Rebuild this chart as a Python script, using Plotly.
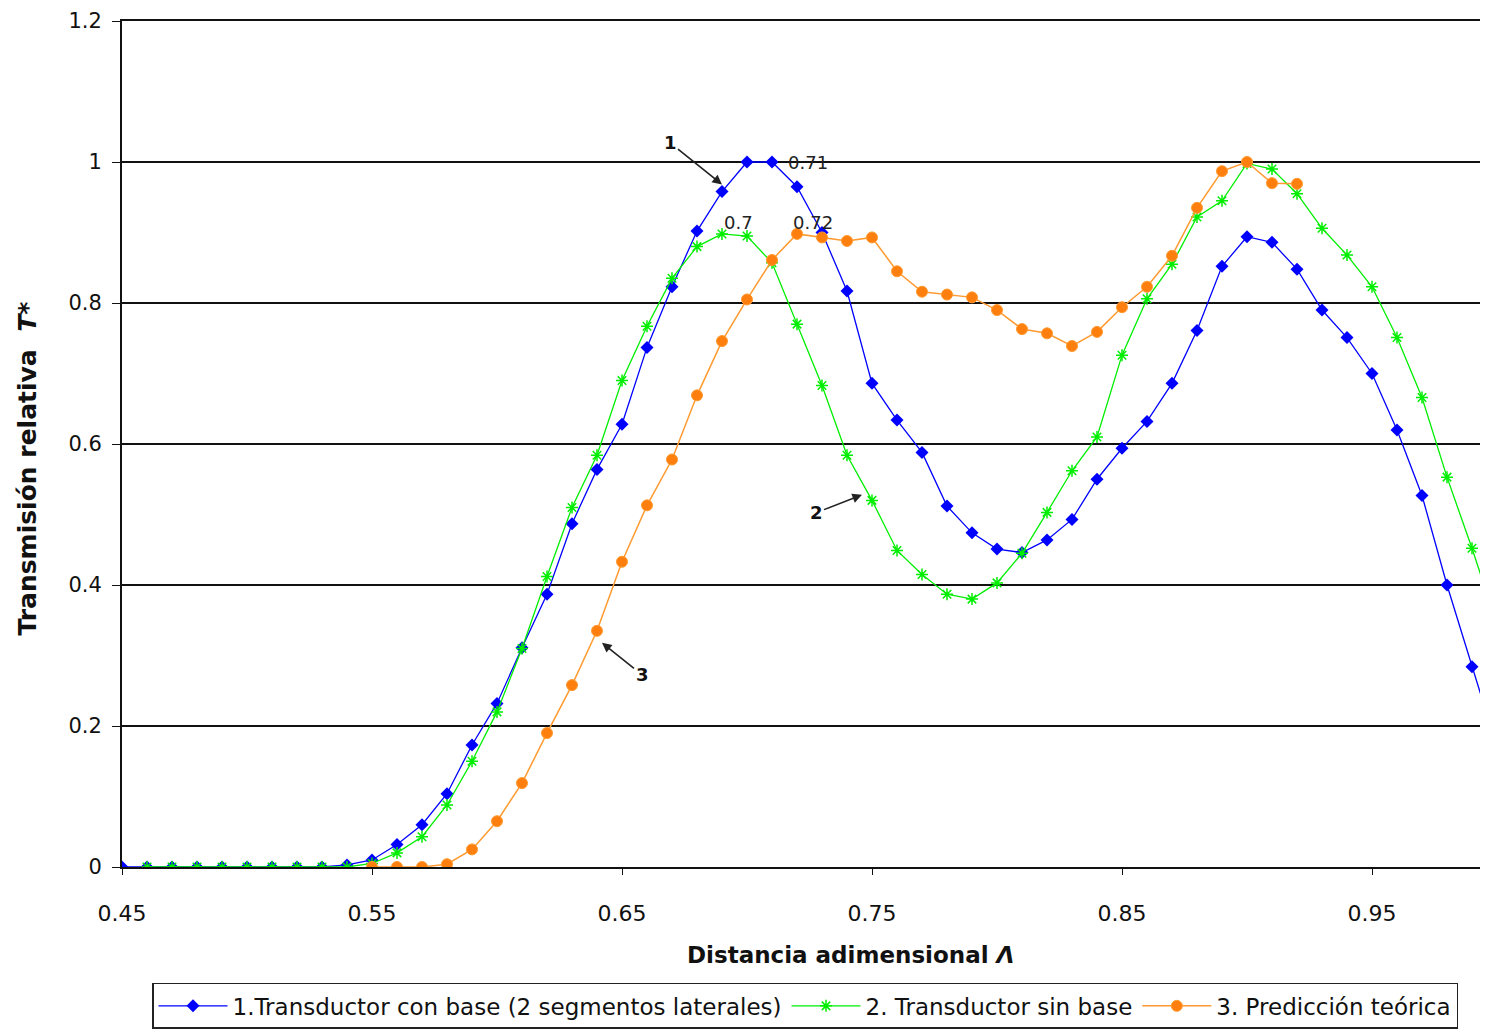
import plotly.graph_objects as go

# ---- data ----
x_blue = [0.45, 0.46, 0.47, 0.48, 0.49, 0.50, 0.51, 0.52, 0.53, 0.54,
          0.55, 0.56, 0.57, 0.58, 0.59, 0.60, 0.61, 0.62, 0.63, 0.64,
          0.65, 0.66, 0.67, 0.68, 0.69, 0.70, 0.71, 0.72, 0.73, 0.74,
          0.75, 0.76, 0.77, 0.78, 0.79, 0.80, 0.81, 0.82, 0.83, 0.84,
          0.85, 0.86, 0.87, 0.88, 0.89, 0.90, 0.91, 0.92, 0.93, 0.94,
          0.95, 0.96, 0.97, 0.98, 0.99, 1.00]
y_blue = [0.0, 0.0, 0.0, 0.0, 0.0, 0.0, 0.0, 0.0, 0.0, 0.003,
          0.01, 0.032, 0.06, 0.104, 0.173, 0.232, 0.311, 0.387, 0.487, 0.564,
          0.628, 0.737, 0.823, 0.902, 0.958, 1.0, 1.0, 0.965, 0.9, 0.817,
          0.686, 0.634, 0.588, 0.512, 0.474, 0.451, 0.446, 0.464, 0.493, 0.55,
          0.594, 0.632, 0.686, 0.761, 0.852, 0.894, 0.886, 0.848, 0.79, 0.751,
          0.70, 0.62, 0.527, 0.40, 0.284, 0.17]

x_green = [0.46, 0.47, 0.48, 0.49, 0.50, 0.51, 0.52, 0.53, 0.54,
           0.55, 0.56, 0.57, 0.58, 0.59, 0.60, 0.61, 0.62, 0.63, 0.64,
           0.65, 0.66, 0.67, 0.68, 0.69, 0.70, 0.71, 0.72, 0.73, 0.74,
           0.75, 0.76, 0.77, 0.78, 0.79, 0.80, 0.81, 0.82, 0.83, 0.84,
           0.85, 0.86, 0.87, 0.88, 0.89, 0.90, 0.91, 0.92, 0.93, 0.94,
           0.95, 0.96, 0.97, 0.98, 0.99, 1.00]
y_green = [0.0, 0.0, 0.0, 0.0, 0.0, 0.0, 0.0, 0.0, 0.0,
           0.005, 0.02, 0.043, 0.088, 0.15, 0.22, 0.31, 0.412, 0.51, 0.584,
           0.69, 0.767, 0.835, 0.88, 0.898, 0.895, 0.857, 0.77, 0.683, 0.584,
           0.52, 0.449, 0.415, 0.387, 0.38, 0.403, 0.445, 0.503, 0.562, 0.61,
           0.726, 0.806, 0.855, 0.922, 0.945, 0.998, 0.99, 0.955, 0.906, 0.868,
           0.823, 0.751, 0.666, 0.553, 0.452, 0.344]

x_orange = [0.55, 0.56, 0.57, 0.58, 0.59, 0.60, 0.61, 0.62, 0.63, 0.64,
            0.65, 0.66, 0.67, 0.68, 0.69, 0.70, 0.71, 0.72, 0.73, 0.74,
            0.75, 0.76, 0.77, 0.78, 0.79, 0.80, 0.81, 0.82, 0.83, 0.84,
            0.85, 0.86, 0.87, 0.88, 0.89, 0.90, 0.91, 0.92]
y_orange = [0.0, 0.0, 0.0, 0.004, 0.025, 0.065, 0.119, 0.19, 0.258, 0.335,
            0.433, 0.513, 0.578, 0.669, 0.746, 0.805, 0.861, 0.898, 0.893, 0.888,
            0.893, 0.845, 0.816, 0.812, 0.808, 0.79, 0.763, 0.757, 0.739, 0.759,
            0.794, 0.823, 0.867, 0.935, 0.987, 1.0, 0.97, 0.969]

names = ["1.Transductor con base (2 segmentos laterales)",
         "2. Transductor sin base",
         "3. Predicción teórica"]

x_ticks = [0.45, 0.55, 0.65, 0.75, 0.85, 0.95]
y_ticks = [0, 0.2, 0.4, 0.6, 0.8, 1, 1.2]

FONT = "DejaVu Sans"

fig = go.Figure()
fig.add_trace(go.Scatter(
    x=x_blue, y=y_blue, mode="lines+markers", name=names[0],
    line=dict(color="#0000FF", width=1.3),
    marker=dict(symbol="diamond", size=10, color="#0000FF")))
fig.add_trace(go.Scatter(
    x=x_green, y=y_green, mode="lines+markers", name=names[1],
    line=dict(color="#00EE00", width=1.3),
    marker=dict(symbol="asterisk-open", size=10,
                line=dict(color="#00DD00", width=1.5))))
fig.add_trace(go.Scatter(
    x=x_orange, y=y_orange, mode="lines+markers", name=names[2],
    line=dict(color="#FF9A30", width=1.5),
    marker=dict(symbol="circle", size=11, color="#FF7F0E",
                line=dict(color="#FF9A30", width=1))))

# point labels
for (xv, yv, t, xs, ys) in [(0.71, 1.0, "0.71", 36, 0),
                            (0.70, 0.895, "0.7", -9, 14),
                            (0.72, 0.898, "0.72", 16, 11)]:
    fig.add_annotation(x=xv, y=yv, text=t, showarrow=False,
                       xshift=xs, yshift=ys,
                       font=dict(family=FONT, size=18, color="#222"))

# numbered arrows
for (xv, yv, t, axv, ayv) in [(0.69, 0.968, "1", -52, -42),
                              (0.746, 0.528, "2", -46, 18),
                              (0.642, 0.318, "3", 40, 32)]:
    fig.add_annotation(x=xv, y=yv, text="<b>%s</b>" % t, showarrow=True,
                       arrowhead=2, arrowsize=1.2, arrowwidth=1.6,
                       arrowcolor="#222", ax=axv, ay=ayv,
                       font=dict(family=FONT, size=18, color="#111"))

# axis titles (reference plot area extends past the cropped right edge)
fig.add_annotation(xref="paper", yref="paper", x=0.533, y=-0.104,
                   xanchor="center", yanchor="middle", showarrow=False,
                   text="<b>Distancia adimensional <i>Λ</i></b>",
                   font=dict(family=FONT, size=23, color="#111"))
fig.add_annotation(xref="paper", yref="paper", x=-0.0695, y=0.471,
                   xanchor="center", yanchor="middle", showarrow=False,
                   textangle=-90,
                   text="<b>Transmisión relativa  <i>T*</i></b>",
                   font=dict(family=FONT, size=25, color="#111"))

fig.update_layout(
    width=1488, height=1029,
    margin=dict(l=114, r=8, t=13, b=164),
    paper_bgcolor="white", plot_bgcolor="white",
    font=dict(family=FONT, size=20, color="#111"),
    showlegend=True,
    legend=dict(orientation="h", x=0.5, xanchor="center",
                y=-0.137, yanchor="top",
                bordercolor="#222", borderwidth=1.5,
                font=dict(family=FONT, size=23, color="#111"),
                itemwidth=69, tracegroupgap=0),
    xaxis=dict(range=[0.45, 0.9964], tickvals=x_ticks,
               ticktext=[f"{v:.2f}" for v in x_ticks],
               showgrid=False, zeroline=False, automargin=False,
               showline=True, mirror=True,
               linecolor="#111", linewidth=2,
               ticks="outside", ticklen=6, tickcolor="#111",
               ticklabelstandoff=20,
               tickfont=dict(family=FONT, size=22)),
    yaxis=dict(range=[0, 1.2], tickvals=y_ticks,
               ticktext=[str(v) for v in y_ticks],
               showgrid=True, gridcolor="#111", gridwidth=1.6,
               zeroline=False, automargin=False,
               showline=True, linecolor="#111", linewidth=2,
               ticks="outside", ticklen=8, tickcolor="#111",
               ticklabelstandoff=6, ticklabeloverflow="allow",
               tickfont=dict(family=FONT, size=21)),
)

fig.write_html("out.html")
